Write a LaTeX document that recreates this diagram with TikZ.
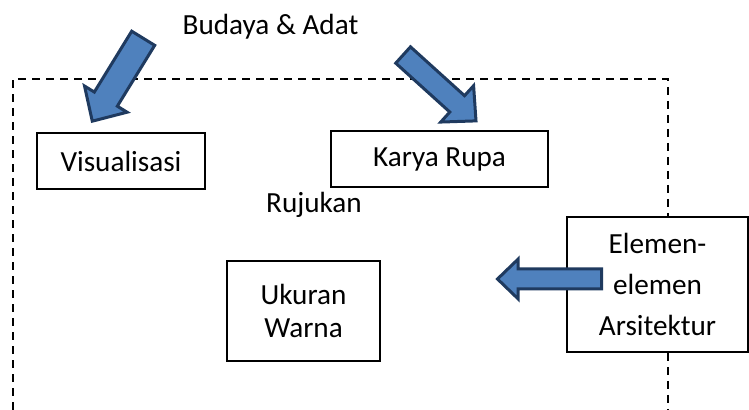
\documentclass[tikz,border=0pt]{standalone}
\usepackage{fontspec}
\setmainfont{Carlito}
\usepackage{tikz}
\usetikzlibrary{calc}
\usetikzlibrary{shapes.arrows}
\definecolor{panahisi}{HTML}{4F81BD}
\definecolor{panahtepi}{HTML}{1F3A5F}

\begin{document}
\begin{tikzpicture}[x=0.5pt,y=-0.5pt,
    kotak/.style={draw,line width=0.6pt,fill=white,inner sep=0pt,align=center},
    huruf/.style={font=\fontsize{14.6}{16.8}\selectfont},
    panah/.style={single arrow,draw=panahtepi,fill=panahisi,line width=1.5pt,
      inner xsep=0pt,single arrow tip angle=88}]
    \useasboundingbox (0,0) rectangle (749,410);
    % batas wilayah
    \draw[line width=1pt,dash pattern=on 4pt off 3pt] (13,410) -- (13,79) -- (668,79) -- (668,410);
    \node[huruf,inner sep=0pt,anchor=base] (BA) at (270.5,35) {Budaya \& Adat};
    \node[huruf,inner sep=0pt,anchor=base] (RJ) at (314,213) {Rujukan};
    \node[kotak,huruf,minimum width=84pt,minimum height=28pt] (VS) at (121,161) {Visualisasi};
    \node[kotak,huruf,minimum width=108.5pt,minimum height=28pt] (KR) at (439.5,159) {Karya Rupa};
    \node[kotak,huruf,minimum width=76.5pt,minimum height=50pt] (UW) at (303.5,311) {Ukuran\\Warna};
    \node[kotak,font=\fontsize{14.6}{20.5}\selectfont,minimum width=90.5pt,minimum height=67.5pt] (EA) at (657.5,284.5) {Elemen-\\elemen\\Arsitektur};
    % ujung panah
    \coordinate (p1a) at (144,37);
    \coordinate (p1b) at (93,120);
    \coordinate (p2a) at (402,54);
    \coordinate (p2b) at (475,120);
    \coordinate (p3a) at (603,279);
    \coordinate (p3b) at (499,279);
    \path let \p1=($(p1b)-(p1a)$), \n1={atan2(\y1,\x1)}, \n2={veclen(\x1,\y1)} in
      node[panah,inner ysep=6pt,single arrow head extend=5.75pt,minimum height=\n2,anchor=tail,rotate=\n1] (P1) at (p1a) {};
    \path let \p1=($(p2b)-(p2a)$), \n1={atan2(\y1,\x1)}, \n2={veclen(\x1,\y1)} in
      node[panah,inner ysep=4.75pt,single arrow head extend=6.75pt,minimum height=\n2,anchor=tail,rotate=\n1] (P2) at (p2a) {};
    \path let \p1=($(p3b)-(p3a)$), \n1={atan2(\y1,\x1)}, \n2={veclen(\x1,\y1)} in
      node[panah,inner ysep=4.25pt,single arrow head extend=5pt,minimum height=\n2,anchor=tail,rotate=\n1] (P3) at (p3a) {};
\end{tikzpicture}
\end{document}
